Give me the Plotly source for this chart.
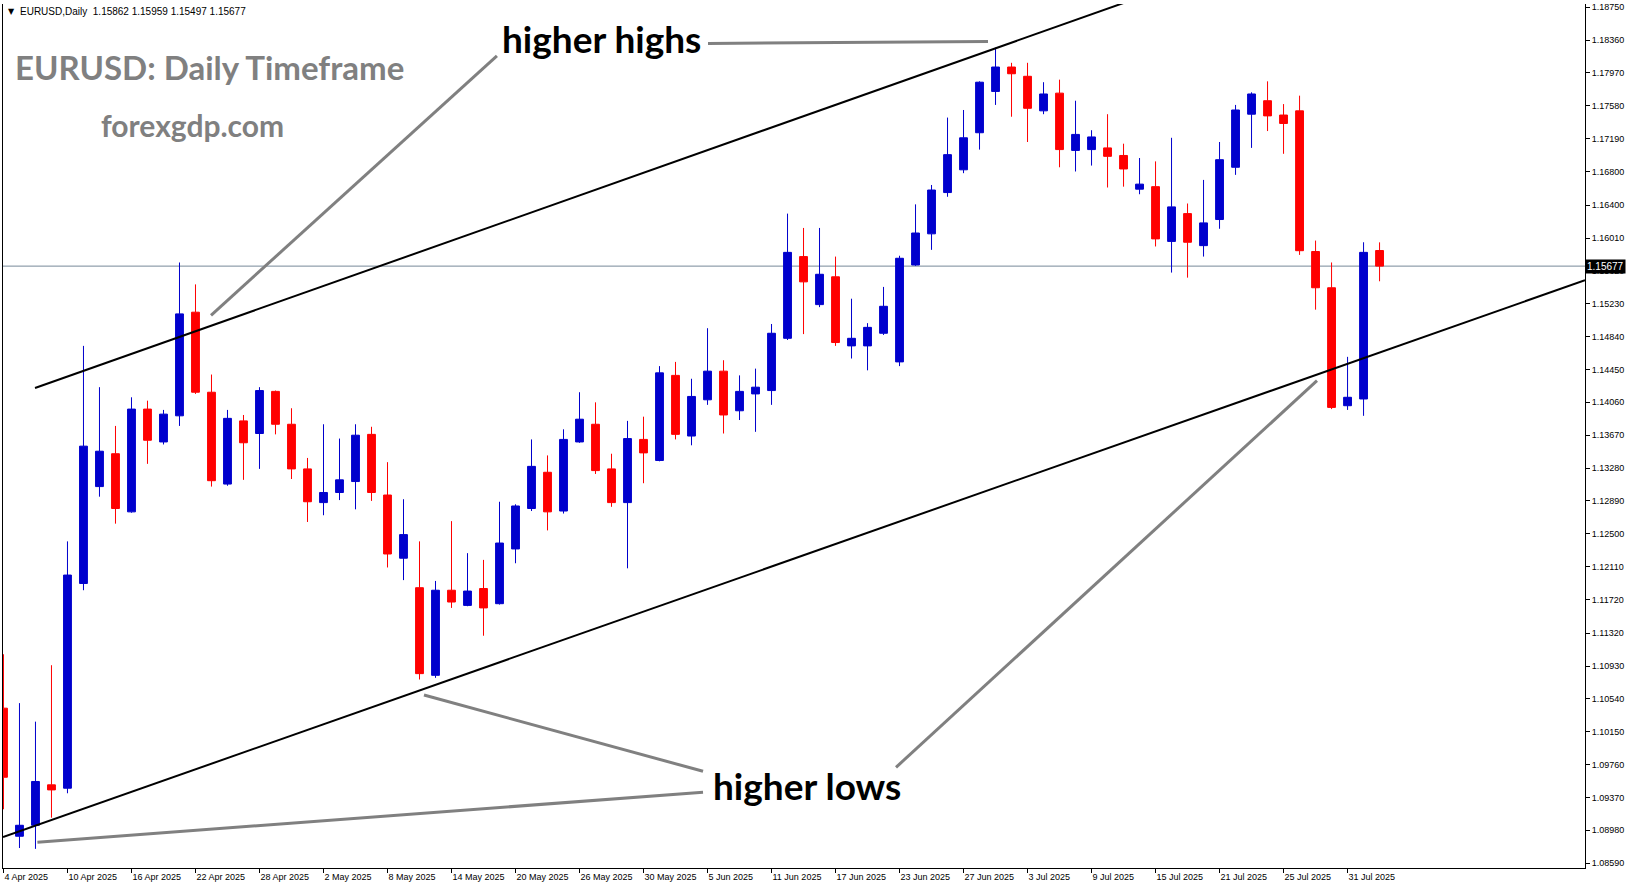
import plotly.graph_objects as go

# ---------------- data ----------------
bar_index = list(range(87))

opens = [1.1043, 1.0891, 1.0904, 1.0952, 1.0948, 1.1191, 1.1306, 1.1345, 1.1276, 1.1398,
         1.1359, 1.1390, 1.1513, 1.1418, 1.1309, 1.1384, 1.1369, 1.1419, 1.1380, 1.1327,
         1.1287, 1.1299, 1.1312, 1.1368, 1.1296, 1.1221, 1.1186, 1.1082, 1.1183, 1.1165,
         1.1185, 1.1167, 1.1232, 1.1280, 1.1323, 1.1277, 1.1359, 1.1380, 1.1327, 1.1287,
         1.1362, 1.1337, 1.1438, 1.1366, 1.1409, 1.1443, 1.1396, 1.1416, 1.1420, 1.1482,
         1.1579, 1.1522, 1.1555, 1.1473, 1.1473, 1.1488, 1.1454, 1.1569, 1.1606, 1.1655,
         1.1682, 1.1726, 1.1775, 1.1804, 1.1793, 1.1752, 1.1773, 1.1705, 1.1706, 1.1708,
         1.1699, 1.1659, 1.1662, 1.1597, 1.1630, 1.1592, 1.1623, 1.1685, 1.1748, 1.1764,
         1.1747, 1.1752, 1.1585, 1.1542, 1.1402, 1.1410, 1.15862]
highs = [1.1107, 1.1049, 1.1027, 1.1094, 1.1241, 1.1473, 1.1424, 1.1378, 1.1412, 1.1408,
         1.1397, 1.1572, 1.1546, 1.1439, 1.1397, 1.1391, 1.1424, 1.1420, 1.1399, 1.1340,
         1.1380, 1.1363, 1.1380, 1.1377, 1.1335, 1.1291, 1.1241, 1.1194, 1.1265, 1.1227,
         1.1219, 1.1288, 1.1285, 1.1362, 1.1343, 1.1374, 1.1418, 1.1406, 1.1345, 1.1384,
         1.1389, 1.1449, 1.1454, 1.1434, 1.1494, 1.1456, 1.1438, 1.1446, 1.1499, 1.1630,
         1.1613, 1.1613, 1.1579, 1.1529, 1.1500, 1.1543, 1.1580, 1.1641, 1.1664, 1.1744,
         1.1753, 1.1787, 1.1827, 1.1809, 1.1809, 1.1786, 1.1789, 1.1764, 1.1729, 1.1748,
         1.1713, 1.1696, 1.1692, 1.1720, 1.1642, 1.1670, 1.1715, 1.1759, 1.1774, 1.1787,
         1.1760, 1.1770, 1.1598, 1.1572, 1.1460, 1.1596, 1.15959]
lows = [1.0923, 1.0877, 1.0876, 1.0913, 1.0942, 1.1183, 1.1294, 1.1262, 1.1275, 1.1333,
        1.1356, 1.1378, 1.1416, 1.1306, 1.1307, 1.1314, 1.1327, 1.1368, 1.1315, 1.1264,
        1.1272, 1.1290, 1.1279, 1.1289, 1.1210, 1.1195, 1.1077, 1.1079, 1.1162, 1.1164,
        1.1129, 1.1166, 1.1215, 1.1277, 1.1254, 1.1274, 1.1358, 1.1321, 1.1282, 1.1209,
        1.1310, 1.1336, 1.1362, 1.1355, 1.1403, 1.1369, 1.1385, 1.1371, 1.1403, 1.1480,
        1.1487, 1.1519, 1.1473, 1.1458, 1.1444, 1.1486, 1.1449, 1.1568, 1.1587, 1.1650,
        1.1678, 1.1706, 1.1759, 1.1745, 1.1715, 1.1748, 1.1685, 1.1680, 1.1687, 1.1661,
        1.1662, 1.1653, 1.1591, 1.1560, 1.1554, 1.1579, 1.1612, 1.1676, 1.1708, 1.1728,
        1.1701, 1.1581, 1.1516, 1.1398, 1.1397, 1.1390, 1.15497]
closes = [1.0961, 1.0904, 1.0956, 1.0946, 1.1201, 1.1354, 1.1348, 1.1280, 1.1398, 1.1361,
          1.1392, 1.1511, 1.1418, 1.1313, 1.1387, 1.1358, 1.1420, 1.1380, 1.1327, 1.1288,
          1.1299, 1.1314, 1.1367, 1.1299, 1.1226, 1.1249, 1.1084, 1.1183, 1.1169, 1.1182,
          1.1162, 1.1239, 1.1283, 1.1330, 1.1276, 1.1362, 1.1386, 1.1325, 1.1287, 1.1363,
          1.1346, 1.1441, 1.1368, 1.1413, 1.1443, 1.1391, 1.1419, 1.1424, 1.1488, 1.1584,
          1.1549, 1.1558, 1.1477, 1.1482, 1.1495, 1.1520, 1.1577, 1.1607, 1.1658, 1.1700,
          1.1720, 1.1786, 1.1804, 1.1796, 1.1755, 1.1772, 1.1706, 1.1724, 1.1721, 1.1698,
          1.1683, 1.1665, 1.1600, 1.1638, 1.1596, 1.1619, 1.1694, 1.1753, 1.1772, 1.1746,
          1.1737, 1.1586, 1.1542, 1.1400, 1.1412, 1.1584, 1.15677]

date_tick_index = list(range(0, 85, 4))
date_tick_labels = ["4 Apr 2025", "10 Apr 2025", "16 Apr 2025", "22 Apr 2025", "28 Apr 2025",
                    "2 May 2025", "8 May 2025", "14 May 2025", "20 May 2025", "26 May 2025",
                    "30 May 2025", "5 Jun 2025", "11 Jun 2025", "17 Jun 2025", "23 Jun 2025",
                    "27 Jun 2025", "3 Jul 2025", "9 Jul 2025", "15 Jul 2025", "21 Jul 2025",
                    "25 Jul 2025", "31 Jul 2025"]

price_tick_labels = ["1.18750", "1.18360", "1.17970", "1.17580", "1.17190", "1.16800", "1.16400",
                     "1.16010", "1.15620", "1.15230", "1.14840", "1.14450", "1.14060", "1.13670",
                     "1.13280", "1.12890", "1.12500", "1.12110", "1.11720", "1.11320", "1.10930",
                     "1.10540", "1.10150", "1.09760", "1.09370", "1.08980", "1.08590"]

last_price = 1.15677
header_text = "EURUSD,Daily  1.15862 1.15959 1.15497 1.15677"

# drawn channel lines (bar index, price)
upper_channel_x = [1.97, 70.0]
upper_channel_y = [1.1423, 1.1880]
lower_channel_x = [-0.03, 98.84]
lower_channel_y = [1.0890, 1.1551]

# grey pointer lines (bar index pairs, price pairs)
pointer_x = [[44.03, 61.53], [30.84, 12.97], [43.72, 26.28], [43.72, 2.12], [55.78, 82.09]]
pointer_y = [[1.18319, 1.18344], [1.18172, 1.15093], [1.09681, 1.10587], [1.09432, 1.08840], [1.09728, 1.14317]]

# ---------------- figure ----------------
W, H = 1631, 888
ML, MR, MT, MB = 3, 46, 2, 20
PW, PH = W - ML - MR, H - MT - MB

def px(x):
    return (x - ML) / PW

def py(y):
    return 1 - (y - MT) / PH

fig = go.Figure()
fig.add_trace(go.Candlestick(
    x=bar_index, open=opens, high=highs, low=lows, close=closes,
    increasing=dict(line=dict(color="#0000CD", width=1), fillcolor="#0000CD"),
    decreasing=dict(line=dict(color="#FF0000", width=1), fillcolor="#FF0000"),
    whiskerwidth=0, showlegend=False, hoverinfo="skip",
))

shapes = []
shapes.append(dict(type="line", xref="paper", x0=0, x1=1, yref="y", y0=last_price, y1=last_price,
                   line=dict(color="#778899", width=1), layer="below"))
for xs, ys in [(upper_channel_x, upper_channel_y), (lower_channel_x, lower_channel_y)]:
    shapes.append(dict(type="line", xref="x", yref="y", x0=xs[0], x1=xs[1], y0=ys[0], y1=ys[1],
                       line=dict(color="black", width=2)))
for xs, ys in zip(pointer_x, pointer_y):
    shapes.append(dict(type="line", xref="x", yref="y", x0=xs[0], x1=xs[1], y0=ys[0], y1=ys[1],
                       line=dict(color="#808080", width=3)))

annotations = []
annotations.append(dict(xref="paper", yref="paper", x=px(11), y=py(10), text="▼", showarrow=False,
                        xanchor="center", yanchor="middle",
                        font=dict(family="DejaVu Sans", size=8, color="black")))
annotations.append(dict(xref="paper", yref="paper", x=px(18), y=py(10), text=header_text, showarrow=False,
                        xanchor="left", yanchor="middle",
                        font=dict(family="Liberation Sans", size=10, color="black")))
annotations.append(dict(xref="paper", yref="paper", x=px(13), y=py(65), text="<b>EURUSD: Daily Timeframe</b>",
                        showarrow=False, xanchor="left", yanchor="middle",
                        font=dict(family="Lato", size=33, color="#808080")))
annotations.append(dict(xref="paper", yref="paper", x=px(99), y=py(123), text="<b>forexgdp.com</b>",
                        showarrow=False, xanchor="left", yanchor="middle",
                        font=dict(family="Lato", size=30, color="#808080")))
annotations.append(dict(xref="paper", yref="paper", x=px(500), y=py(37), text="<b>higher highs</b>",
                        showarrow=False, xanchor="left", yanchor="middle",
                        font=dict(family="Lato", size=37, color="black")))
annotations.append(dict(xref="paper", yref="paper", x=px(711), y=py(785), text="<b>higher lows</b>",
                        showarrow=False, xanchor="left", yanchor="middle",
                        font=dict(family="Lato", size=37, color="black")))
annotations.append(dict(xref="paper", yref="y", x=1, y=last_price, text="1.15677", showarrow=False,
                        xanchor="left", yanchor="middle", xshift=0, bgcolor="black", borderpad=1,
                        font=dict(family="Liberation Sans", size=10, color="white")))

fig.update_layout(
    width=W, height=H,
    margin=dict(l=ML, r=MR, t=MT, b=MB),
    paper_bgcolor="white", plot_bgcolor="white",
    shapes=shapes, annotations=annotations,
    showlegend=False,
    xaxis=dict(range=[-0.03, 98.84], tickmode="array", tickvals=date_tick_index, ticktext=date_tick_labels,
               ticks="outside", ticklen=4, tickcolor="black", showline=True, linecolor="black", linewidth=1,
               showgrid=False, zeroline=False, rangeslider=dict(visible=False),
               ticklabelposition="outside right",
               tickfont=dict(family="Liberation Sans", size=9, color="black"), fixedrange=True),
    yaxis=dict(side="right", range=[1.08533, 1.18788], tickmode="array",
               tickvals=[float(t) for t in price_tick_labels], ticktext=price_tick_labels,
               ticks="outside", ticklen=4, tickcolor="black", showline=True, linecolor="black",
               linewidth=1, mirror=True, showgrid=False, zeroline=False,
               tickfont=dict(family="Liberation Sans", size=9, color="black"), fixedrange=True),
)

fig.write_html("out.html", config={"displayModeBar": False},
               post_script="document.body.style.margin='0px';")
